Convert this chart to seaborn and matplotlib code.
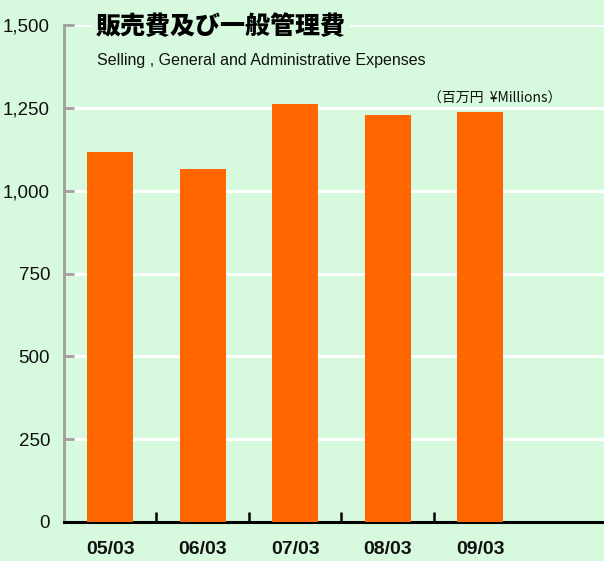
import matplotlib
matplotlib.use("Agg")
import matplotlib.pyplot as plt
import seaborn as sns
import pandas as pd

categories = ["05/03", "06/03", "07/03", "08/03", "09/03"]
values = [1117, 1065, 1262, 1228, 1237]
yticks = [0, 250, 500, 750, 1000, 1250, 1500]
ytick_labels = ["0", "250", "500", "750", "1,000", "1,250", "1,500"]

title_jp = "販売費及び一般管理費"
title_en = "Selling , General and Administrative Expenses"
unit_label = "（百万円  ¥Millions）"

bg = "#d7fadf"
bar_color = "#ff6600"

sns.set_theme(style="white")
plt.rcParams['font.family'] = ['Liberation Sans', 'Noto Sans CJK JP', 'DejaVu Sans']
plt.rcParams['text.color'] = "#111111"

fig = plt.figure(figsize=(6.04, 5.61), dpi=100)
fig.patch.set_facecolor(bg)
ax = fig.add_axes([64/604, 39/561, 540/604, 497/561])
ax.set_facecolor(bg)

df = pd.DataFrame({"cat": categories, "val": values})
sns.barplot(data=df, x="cat", y="val", color=bar_color, saturation=1, width=0.5,
            linewidth=0, edgecolor=bar_color, ax=ax, zorder=3)

ax.set_ylim(0, 1500)
ax.set_xlim(-0.5, 5.34)
ax.set_yticks(yticks)
ax.set_yticklabels(ytick_labels, fontsize=13.5, color="#111111")
ax.yaxis.grid(True, color="white", linewidth=2.2, zorder=0)
ax.set_axisbelow(True)
ax.tick_params(axis="y", direction="in", length=7, width=2, color="#a0a0a0", pad=10, left=True)

ax.set_xticks(range(len(categories)))
ax.set_xticklabels(categories, fontsize=14, fontweight="bold", color="#111111")
ax.tick_params(axis="x", which="major", length=0, pad=14)
ax.set_xticks([i + 0.5 for i in range(len(categories) - 1)], minor=True)
ax.tick_params(axis="x", which="minor", direction="in", length=7, width=1.8, color="black", bottom=True)

ax.set_xlabel("")
ax.set_ylabel("")
for s in ["top", "right"]:
    ax.spines[s].set_visible(False)
ax.spines["left"].set_color("#a0a0a0")
ax.spines["left"].set_linewidth(2)
ax.spines["bottom"].set_color("black")
ax.spines["bottom"].set_linewidth(2.2)

fig.text(96/604, 1 - 26/561, title_jp, fontsize=18, fontweight="heavy", color="black",
         family=['Noto Sans CJK JP', 'DejaVu Sans'], va="center", ha="left",
         bbox=dict(facecolor=bg, edgecolor="none", pad=3), zorder=10)
fig.text(97/604, 1 - 61/561, title_en, fontsize=11.5, va="center", ha="left", color="#111111")
fig.text(428/604, 1 - 99/561, unit_label, fontsize=10, va="center", ha="left",
         family=['Noto Sans CJK JP', 'DejaVu Sans'], color="#111111")

fig.savefig("out.png", dpi=100, facecolor=bg)
